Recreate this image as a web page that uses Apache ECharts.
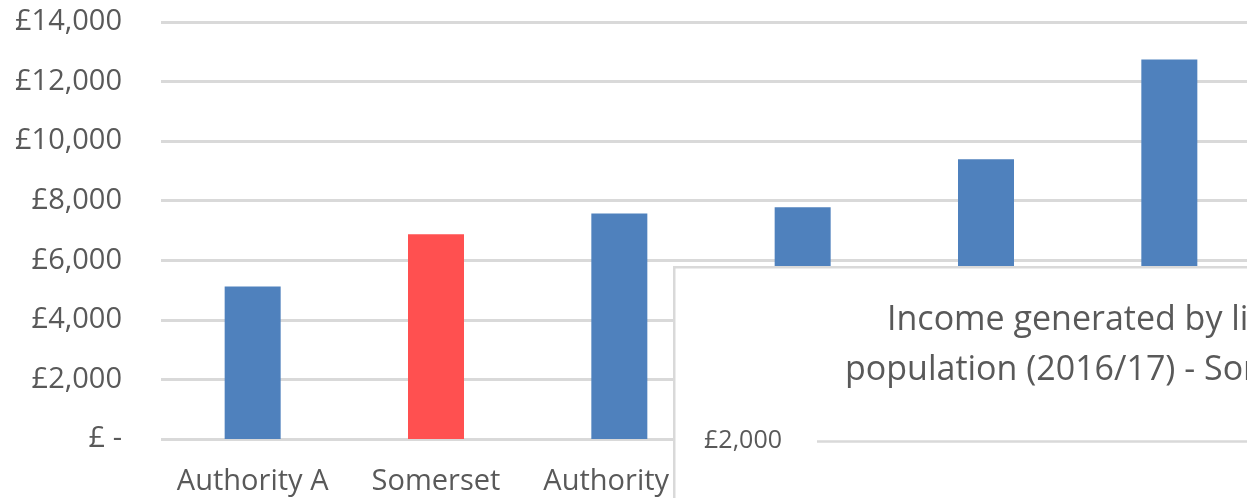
<!DOCTYPE html>
<html>
<head>
<meta charset="utf-8">
<script src="https://cdn.jsdelivr.net/npm/echarts@6/dist/echarts.min.js"></script>
<style>html,body{margin:0;padding:0;background:#fff;}#c{width:1247px;height:498px;}</style>
</head>
<body>
<div id="c"></div>
<script>
var categories = ['Authority A', 'Somerset', 'Authority B', 'Authority C', 'Authority D', 'Authority E'];
var values = [5120, 6870, 7570, 7780, 9390, 12740];
var yTickLabels = ['£ -', '£2,000', '£4,000', '£6,000', '£8,000', '£10,000', '£12,000', '£14,000'];
var insetTickLabels = ['', '£2,000'];
var insetTitleLines = ['Income generated by libraries per 1,000', 'population (2016/17) - Somerset and comparators'];
var highlight = 'Somerset';

var FONT = 'Open Sans';
var chart = echarts.init(document.getElementById('c'));
chart.setOption({
  animation: false,
  backgroundColor: '#fff',
  grid: [
    { left: 161, top: 22, width: 1100, height: 417, outerBoundsMode: 'none', containLabel: false },
    { left: 817, top: 441, width: 600, height: 120, outerBoundsMode: 'none', containLabel: false }
  ],
  xAxis: [
    {
      type: 'category', data: categories, gridIndex: 0,
      axisLine: { show: false }, axisTick: { show: false },
      axisLabel: { color: '#595959', fontFamily: FONT, fontSize: 29, margin: 28, interval: 0 }
    },
    { type: 'category', data: [''], gridIndex: 1, show: false }
  ],
  yAxis: [
    {
      type: 'value', gridIndex: 0, min: 0, max: 14000, interval: 2000,
      axisLine: { show: false }, axisTick: { show: false },
      splitLine: { lineStyle: { color: '#d9d9d9', width: 3 } },
      axisLabel: {
        color: '#595959', fontFamily: FONT, fontSize: 29, margin: 39,
        formatter: function (v) { return yTickLabels[Math.round(v / 2000)]; }
      }
    },
    {
      type: 'value', gridIndex: 1, min: 0, max: 2000, interval: 2000, z: 60,
      axisLine: { show: false }, axisTick: { show: false },
      splitLine: { lineStyle: { color: '#d9d9d9', width: 2.5 } },
      axisLabel: {
        color: '#595959', fontFamily: FONT, fontSize: 25, margin: 35,
        formatter: function (v) { return insetTickLabels[Math.round(v / 2000)]; }
      }
    }
  ],
  series: [
    {
      type: 'bar', xAxisIndex: 0, yAxisIndex: 0, data: values, barWidth: 56,
      itemStyle: {
        color: function (p) { return p.name === highlight ? '#ff5050' : '#4f81bd'; }
      }
    }
  ],
  graphic: [
    {
      type: 'rect', z: 50, left: 673, top: 266,
      shape: { width: 640, height: 300 },
      style: { fill: '#ffffff', stroke: '#d9d9d9', lineWidth: 2.5 }
    },
    {
      type: 'text', z: 60, x: 887, y: 320,
      style: { text: insetTitleLines[0], fill: '#595959', font: '34px "Open Sans"', verticalAlign: 'middle' }
    },
    {
      type: 'text', z: 60, x: 845, y: 370,
      style: { text: insetTitleLines[1], fill: '#595959', font: '34px "Open Sans"', verticalAlign: 'middle' }
    }
  ]
});
</script>
</body>
</html>
